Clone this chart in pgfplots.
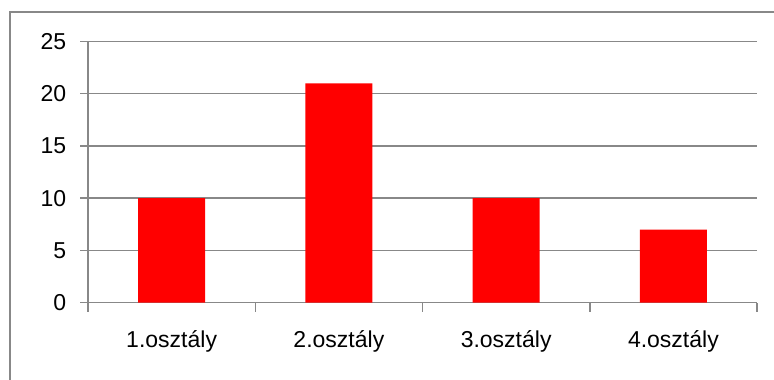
\documentclass[border=0pt]{standalone}
\usepackage{pgfplots}
\pgfplotsset{compat=1.18}
\usepackage{fontspec}
\setmainfont{Liberation Sans}
\definecolor{gline}{HTML}{888888}
\begin{document}
\fontsize{23bp}{27bp}\selectfont
\begin{tikzpicture}[x=1bp,y=1bp]
\path[use as bounding box] (0,0) rectangle (774,379);
\draw[color=gline, line width=2bp] (10,-5) -- (10,366.5) -- (790,366.5);
\begin{axis}[
  at={(88bp,76.3bp)}, anchor=south west,
  scale only axis, width=669bp, height=261.2bp,
  xmin=-0.5, xmax=3.5, ymin=0, ymax=25,
  ytick={0,5,...,25},
  xtick={0,1,2,3},
  xticklabels={1.osztály,2.osztály,3.osztály,4.osztály},
  minor xtick={-0.5,0.5,1.5,2.5,3.5},
  axis lines*=left,
  axis line style={gline, line width=1.5bp},
  tick align=outside,
  major tick length=8bp,
  minor tick length=9bp,
  major x tick style={draw=none},
  every tick/.style={gline, line width=1.5bp},
  ymajorgrids,
  grid style={gline, line width=1.5bp},
  ticklabel style={font=\fontsize{23bp}{27bp}\selectfont, text=black},
  /pgf/number format/assume math mode=true,
  yticklabel style={xshift=-6bp},
  xticklabel style={yshift=-12bp},
  clip=false,
]
\addplot[ybar, fill=red, draw=none, bar width=0.4] coordinates {(0,10) (1,21) (2,10) (3,7)};
\end{axis}
\end{tikzpicture}
\end{document}
